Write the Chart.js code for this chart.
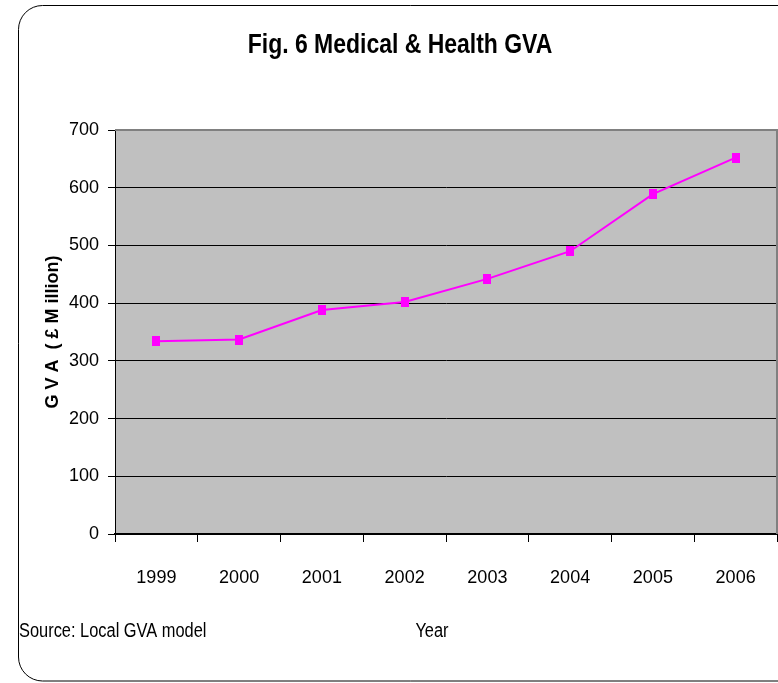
<!DOCTYPE html>
<html>
<head>
<meta charset="utf-8">
<script src="https://cdn.jsdelivr.net/npm/chart.js@4/dist/chart.umd.min.js"></script>
<style>
  html, body { margin: 0; padding: 0; background: #ffffff; }
  #wrap { width: 778px; height: 683px; position: relative; }
  canvas { display: block; }
</style>
</head>
<body>
<div id="wrap"><canvas id="c" width="778" height="683"></canvas></div>
<script>
// ---- data ----
const years = ['1999', '2000', '2001', '2002', '2003', '2004', '2005', '2006'];
const gvaValues = [334, 337, 388, 402, 442, 490, 589, 652];
const yTickValues = [0, 100, 200, 300, 400, 500, 600, 700];
const chartTitle = 'Fig. 6 Medical & Health GVA';
const yAxisTitle = 'G V A  ( £ M illion)';
const xAxisTitle = 'Year';
const sourceNote = 'Source: Local GVA model';

const FONT = '"Liberation Sans", Arial, sans-serif';
const NARROW = 0.82; // horizontal squeeze to mimic a narrow face

// marker: small magenta rectangle
const marker = document.createElement('canvas');
marker.width = 8; marker.height = 10;
(function(){ const m = marker.getContext('2d'); m.fillStyle = '#ff00ff'; m.fillRect(0, 0, 8, 10); })();

function narrowText(ctx, text, x, y, align) {
  ctx.save();
  ctx.translate(x, y);
  ctx.scale(NARROW, 1);
  ctx.textAlign = align;
  ctx.fillText(text, 0, 0);
  ctx.restore();
}

const decor = {
  id: 'decor',
  beforeDraw(chart) {
    const ctx = chart.ctx, a = chart.chartArea;
    ctx.save();
    ctx.fillStyle = '#ffffff';
    ctx.fillRect(0, 0, chart.width, chart.height);
    // outer rounded frame
    ctx.strokeStyle = '#000000';
    ctx.lineWidth = 1;
    ctx.beginPath();
    ctx.roundRect(18.5, 5.5, 820, 675.5, 24);
    ctx.stroke();
    // plot background
    ctx.fillStyle = '#c0c0c0';
    ctx.fillRect(a.left, a.top, a.right - a.left, a.bottom - a.top);
    ctx.restore();
  },
  beforeDatasetsDraw(chart) {
    const ctx = chart.ctx, a = chart.chartArea;
    ctx.save();
    ctx.strokeStyle = '#808080';
    ctx.lineWidth = 2;
    ctx.beginPath();
    ctx.moveTo(a.left, a.top);
    ctx.lineTo(a.right, a.top);
    ctx.lineTo(a.right, a.bottom);
    ctx.stroke();
    ctx.restore();
  },
  afterDraw(chart) {
    const ctx = chart.ctx;
    ctx.save();
    ctx.fillStyle = '#000000';
    ctx.textBaseline = 'alphabetic';
    ctx.font = 'bold 28px ' + FONT;
    narrowText(ctx, chartTitle, 400, 53, 'center');
    ctx.font = '20px ' + FONT;
    narrowText(ctx, xAxisTitle, 432, 637, 'center');
    narrowText(ctx, sourceNote, 19, 637, 'left');
    ctx.restore();
  }
};

new Chart(document.getElementById('c'), {
  type: 'line',
  data: {
    labels: years,
    datasets: [{
      data: gvaValues,
      borderColor: '#ff00ff',
      borderWidth: 2,
      tension: 0,
      pointStyle: marker,
      pointRadius: 5,
      pointHoverRadius: 5,
      fill: false,
      clip: false
    }]
  },
  options: {
    responsive: false,
    animation: false,
    events: [],
    layout: { autoPadding: false, padding: { left: 0, right: 1, top: 130, bottom: 0 } },
    plugins: {
      legend: { display: false },
      title: { display: false },
      tooltip: { enabled: false }
    },
    scales: {
      x: {
        offset: true,
        grid: {
          offset: true,
          drawOnChartArea: false,
          drawTicks: true,
          tickLength: 8,
          color: '#000000',
          lineWidth: 1
        },
        border: { display: true, color: '#000000', width: 2 },
        ticks: {
          color: '#000000',
          font: { family: FONT, size: 18 },
          padding: 25,
          maxRotation: 0,
          autoSkip: false
        },
        afterFit(scale) {
          scale.height = 683 - 534;
          scale.paddingLeft = 0;
          scale.paddingRight = 0;
        }
      },
      y: {
        min: 0,
        max: 700,
        afterBuildTicks(scale) { scale.ticks = yTickValues.map(v => ({ value: v })); },
        grid: {
          color: '#000000',
          lineWidth: 1,
          drawTicks: true,
          tickLength: 7
        },
        border: { display: true, color: '#000000', width: 1 },
        ticks: {
          color: '#000000',
          font: { family: FONT, size: 18 },
          padding: 9
        },
        title: {
          display: true,
          text: yAxisTitle,
          color: '#000000',
          font: { family: FONT, size: 18, weight: 'bold' },
          padding: { top: 42, bottom: 0 }
        },
        afterFit(scale) { scale.width = 115; }
      }
    }
  },
  plugins: [decor]
});
</script>
</body>
</html>
